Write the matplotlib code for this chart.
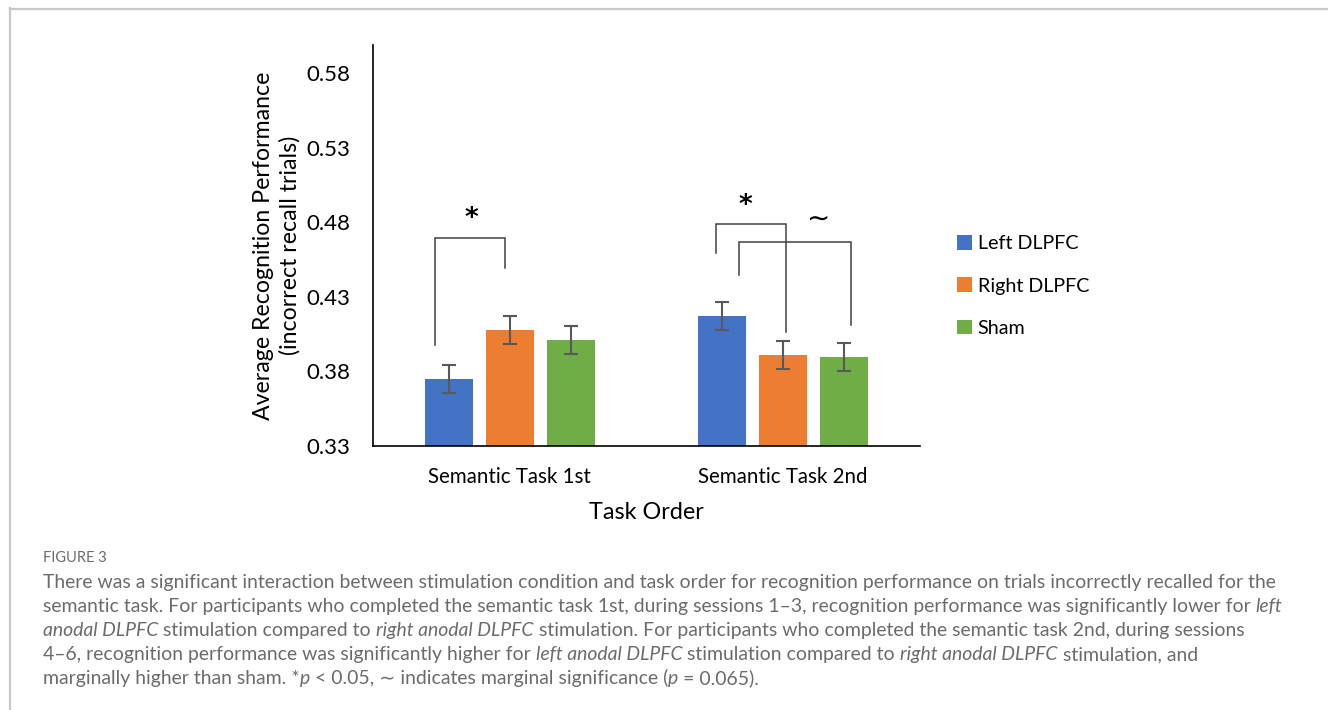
import matplotlib
matplotlib.use("Agg")
import matplotlib.pyplot as plt
from matplotlib.patches import Patch
import numpy as np

# ---------------- data ----------------
groups = ["Semantic Task 1st", "Semantic Task 2nd"]
conditions = ["Left DLPFC", "Right DLPFC", "Sham"]
left_dlpfc = [0.375, 0.417]
right_dlpfc = [0.408, 0.391]
sham = [0.401, 0.3895]
left_err = [0.0095, 0.0093]
right_err = [0.0093, 0.0094]
sham_err = [0.0093, 0.0095]
yticks = [0.33, 0.38, 0.43, 0.48, 0.53, 0.58]
colors = ["#4472C4", "#ED7D31", "#70AD47"]

# significance brackets: (x_left, x_right, y_top, y_left_end, y_right_end)
brackets = [(-0.273, -0.018, 0.4698, 0.3976, 0.4497),
            (0.755, 1.010, 0.4792, 0.4593, 0.4067),
            (0.8385, 1.249, 0.4667, 0.4448, 0.4110)]
sig_marks = [("*", -0.14, 0.4825), ("*", 0.86, 0.4910), ("\u223c", 1.125, 0.4825)]

caption_title = "FIGURE 3"
caption_lines = [
    [("There was a significant interaction between stimulation condition and task order for recognition performance on trials incorrectly recalled for the", False)],
    [("semantic task. For participants who completed the semantic task 1st, during sessions 1\u20133, recognition performance was significantly lower for ", False), ("left", True)],
    [("anodal DLPFC", True), (" stimulation compared to ", False), ("right anodal DLPFC", True), (" stimulation. For participants who completed the semantic task 2nd, during sessions", False)],
    [("4\u20136, recognition performance was significantly higher for ", False), ("left anodal DLPFC", True), (" stimulation compared to ", False), ("right anodal DLPFC", True), (" stimulation, and", False)],
    [("marginally higher than sham. *", False), ("p", True), (" < 0.05, \u223c indicates marginal significance (", False), ("p", True), (" = 0.065).", False)],
]

W, H = 1328, 710
fig = plt.figure(figsize=(W / 100, H / 100), dpi=100)
fig.patch.set_facecolor("white")
chart_font = ["Lato", "DejaVu Sans"]
plt.rcParams["font.family"] = chart_font

ax = fig.add_axes([373 / W, 1 - 446 / H, (920 - 373) / W, (446 - 45) / H])
x = np.arange(len(groups))
off = 0.2235
bw = 0.175
series = [(left_dlpfc, left_err), (right_dlpfc, right_err), (sham, sham_err)]
for i, (vals, errs) in enumerate(series):
    ax.bar(x + (i - 1) * off, vals, bw, color=colors[i], label=conditions[i], zorder=2)
    ax.errorbar(x + (i - 1) * off, vals, yerr=errs, fmt="none", ecolor="#595959",
                elinewidth=1.5, capsize=5, capthick=1.5, zorder=3)

ax.set_ylim(0.33, 0.599)
ax.set_xlim(-0.5, 1.5)
ax.set_yticks(yticks)
ax.set_yticklabels([f"{v:.2f}" for v in yticks], fontsize=16)
ax.set_xticks(x)
ax.set_xticklabels(groups, fontsize=14.8)
ax.tick_params(axis="both", length=0, colors="black")
ax.tick_params(axis="y", pad=16.5)
ax.tick_params(axis="x", pad=15)
for s in ["top", "right"]:
    ax.spines[s].set_visible(False)
ax.spines["left"].set_linewidth(1.2)
ax.spines["bottom"].set_linewidth(1.2)
ax.set_ylabel("Average Recognition Performance\n(incorrect recall trials)", fontsize=16.7,
              labelpad=4, linespacing=1.3)
ax.set_xlabel("Task Order", fontsize=16.8, labelpad=11)

for (xl, xr, yt, yl, yr) in brackets:
    ax.plot([xl, xl, xr, xr], [yl, yt, yt, yr], color="#404040", lw=1.1, zorder=4,
            solid_joinstyle="miter")
for (m, mx, my) in sig_marks:
    if m == "*":
        ax.text(mx, my, m, ha="center", va="center", fontsize=19, fontweight="bold",
                color="black", family=["DejaVu Sans"])
    else:
        ax.text(mx, my, m, ha="center", va="center", fontsize=20, color="black",
                family=["DejaVu Sans"])

handles = [Patch(facecolor=c, edgecolor="none") for c in colors]
fig.legend(handles, conditions, loc="center left", bbox_to_anchor=(957 / W, 1 - 286 / H),
           bbox_transform=fig.transFigure, frameon=False, fontsize=14.2,
           handlelength=0.75, handleheight=0.75, handletextpad=0.3, labelspacing=1.28,
           borderpad=0, borderaxespad=0)

# frame lines
fig.add_artist(plt.Line2D([9.5 / W, 9.5 / W], [1 - 8 / H, 0], transform=fig.transFigure,
                          color="#c8c8c8", lw=1.6))
fig.add_artist(plt.Line2D([9.5 / W, 1], [1 - 8.5 / H, 1 - 8.5 / H], transform=fig.transFigure,
                          color="#c8c8c8", lw=1.6))

# caption
cap_color = "#6b6b6b"
cap_font = ["Lato", "DejaVu Sans"]
fig.text(43 / W, 1 - 562 / H, caption_title, fontsize=10.5, color=cap_color, family=cap_font,
         va="baseline", ha="left")

renderer = fig.canvas.get_renderer()

def seg_width(s, italic, fs):
    t1 = fig.text(0, 0, s + "|", fontsize=fs, style="italic" if italic else "normal", family=cap_font)
    t2 = fig.text(0, 0, "|", fontsize=fs, style="italic" if italic else "normal", family=cap_font)
    w = t1.get_window_extent(renderer).width - t2.get_window_extent(renderer).width
    t1.remove(); t2.remove()
    return w

# scale font so that line 1 spans ~1232 px
base_fs = 13
w1 = sum(seg_width(s, it, base_fs) for s, it in caption_lines[0])
cap_fs = base_fs * 1232 / w1

baselines = [588, 612, 636, 660, 684]
for line, yb in zip(caption_lines, baselines):
    xp = 43
    for s, it in line:
        fig.text(xp / W, 1 - yb / H, s, fontsize=cap_fs, color=cap_color, family=cap_font,
                 style="italic" if it else "normal", va="baseline", ha="left")
        xp += seg_width(s, it, cap_fs)

fig.savefig("out.png", dpi=100, facecolor="white")
